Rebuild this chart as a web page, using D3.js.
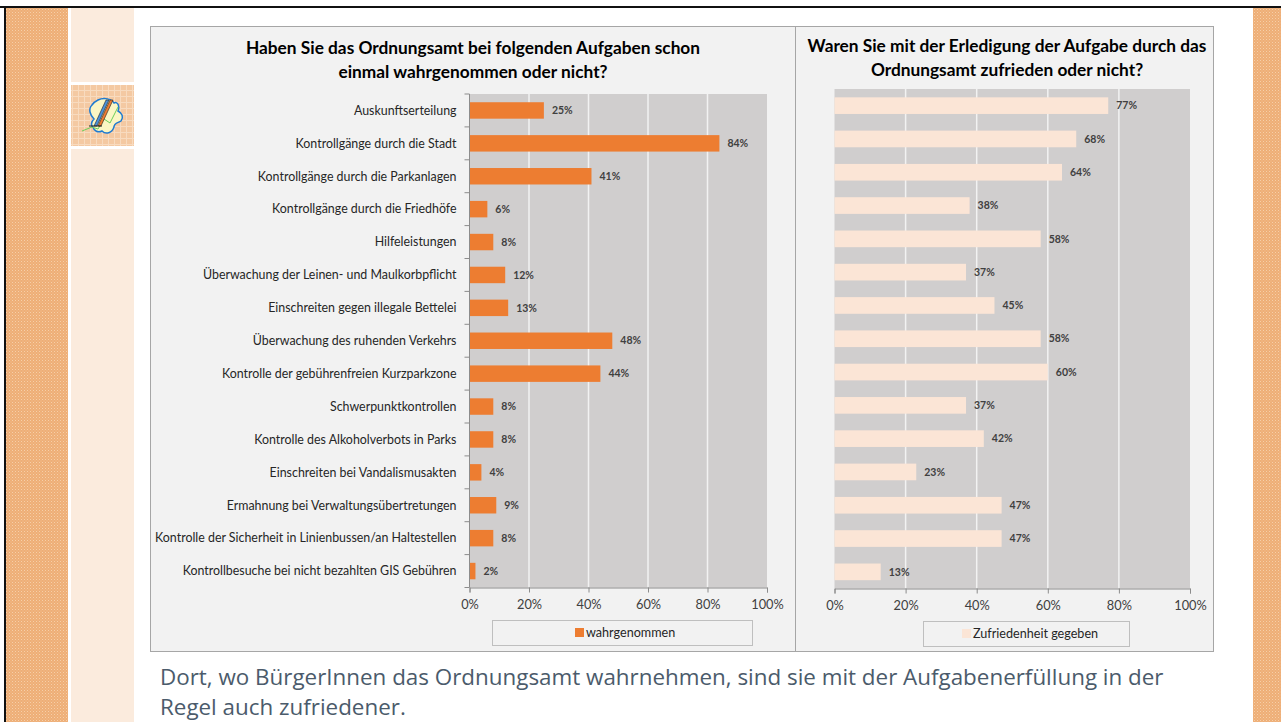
<!DOCTYPE html>
<html>
<head>
<meta charset="utf-8">
<script src="https://cdn.jsdelivr.net/npm/d3@7"></script>
<style>
  body { margin: 0; background: #ffffff; }
  svg { display: block; }
  text { font-family: Lato, 'Noto Sans', sans-serif; }
</style>
</head>
<body>
<svg id="slide" width="1281" height="722"></svg>
<script>
// Aufgaben (categories)
const categories = [
    'Auskunftserteilung',
    'Kontrollgänge durch die Stadt',
    'Kontrollgänge durch die Parkanlagen',
    'Kontrollgänge durch die Friedhöfe',
    'Hilfeleistungen',
    'Überwachung der Leinen- und Maulkorbpflicht',
    'Einschreiten gegen illegale Bettelei',
    'Überwachung des ruhenden Verkehrs',
    'Kontrolle der gebührenfreien Kurzparkzone',
    'Schwerpunktkontrollen',
    'Kontrolle des Alkoholverbots in Parks',
    'Einschreiten bei Vandalismusakten',
    'Ermahnung bei Verwaltungsübertretungen',
    'Kontrolle der Sicherheit in Linienbussen/an Haltestellen',
    'Kontrollbesuche bei nicht bezahlten GIS Gebühren'
];

// wahrgenommen
const wahrgenommen = [0.25, 0.84, 0.41, 0.06, 0.08, 0.12, 0.13, 0.48, 0.44, 0.08, 0.08, 0.04, 0.09, 0.08, 0.02];

// Zufriedenheit gegeben
const zufrieden = [0.77, 0.68, 0.64, 0.38, 0.58, 0.37, 0.45, 0.58, 0.60, 0.37, 0.42, 0.23, 0.47, 0.47, 0.13];

const xTicks = [0, 0.2, 0.4, 0.6, 0.8, 1];

const titleLeft = ['Haben Sie das Ordnungsamt bei folgenden Aufgaben schon', 'einmal wahrgenommen oder nicht?'];
const titleRight = ['Waren Sie mit der Erledigung der Aufgabe durch das', 'Ordnungsamt zufrieden oder nicht?'];
const footer = ['Dort, wo BürgerInnen das Ordnungsamt wahrnehmen, sind sie mit der Aufgabenerfüllung in der',
    'Regel auch zufriedener.'];

const orangeColor = '#ed7d31';
const peachColor = '#fbe5d6';
const plotColor = '#d0cece';
const panelColor = '#f2f2f2';
const textColor = '#404040';

const svg = d3.select('#slide');

// ---- slide decoration ----
const defs = svg.append('defs');
const pat = defs.append('pattern')
    .attr('id', 'dots')
    .attr('width', 3)
    .attr('height', 3)
    .attr('patternUnits', 'userSpaceOnUse');
pat.append('rect').attr('width', 3).attr('height', 3).attr('fill', '#eeae76');
pat.append('rect').attr('x', 0).attr('y', 0).attr('width', 1).attr('height', 1).attr('fill', '#f6cfa8');
pat.append('rect').attr('x', 1.5).attr('y', 1.5).attr('width', 1).attr('height', 1).attr('fill', '#f4c496');

const grid = defs.append('pattern')
    .attr('id', 'tile')
    .attr('width', 6)
    .attr('height', 6)
    .attr('patternUnits', 'userSpaceOnUse');
grid.append('rect').attr('width', 6).attr('height', 6).attr('fill', '#f4c9a2');
grid.append('rect').attr('width', 6).attr('height', 1).attr('fill', '#f8dbbf');
grid.append('rect').attr('width', 1).attr('height', 6).attr('fill', '#f8dbbf');

// top + left black frame
svg.append('rect').attr('x', 0).attr('y', 6).attr('width', 1281).attr('height', 2).attr('fill', '#111');
svg.append('rect').attr('x', 4).attr('y', 6).attr('width', 2).attr('height', 716).attr('fill', '#111');

// orange strips
svg.append('rect').attr('x', 6).attr('y', 8).attr('width', 62).attr('height', 714).attr('fill', 'url(#dots)');
svg.append('rect').attr('x', 1253).attr('y', 8).attr('width', 28).attr('height', 714).attr('fill', 'url(#dots)');

// peach column
svg.append('rect').attr('x', 71).attr('y', 8).attr('width', 63).attr('height', 74).attr('fill', '#fbebdd');
svg.append('rect').attr('x', 71).attr('y', 85).attr('width', 63).attr('height', 61).attr('fill', 'url(#tile)');
svg.append('rect').attr('x', 71).attr('y', 149).attr('width', 63).attr('height', 573).attr('fill', '#fbebdd');

// logo
const logo = svg.append('g').attr('transform', 'translate(84,97)');
logo.append('path')
    .attr('d', 'M14,3 C20,0 28,2 30,6 C34,4 36,10 34,14 C38,16 40,20 37,24 C34,26 30,26 30,30 C28,36 22,38 18,34 C14,36 10,34 9,30 C6,28 8,24 10,22 C6,18 4,12 8,8 C10,5 12,4 14,3 Z')
    .attr('fill', '#fbf6c4')
    .attr('stroke', '#1f7bd1')
    .attr('stroke-width', 1.5);
logo.append('path')
    .attr('d', 'M-2,34 L8,30 L14,32 L20,22 L26,26 L34,10')
    .attr('fill', 'none')
    .attr('stroke', '#6ccf5a')
    .attr('stroke-width', 1);
logo.append('path').attr('d', 'M10,29 L22,3 L25,3 L13,29 Z').attr('fill', '#4a90d9').attr('stroke', '#222').attr('stroke-width', 0.6);
logo.append('path').attr('d', 'M14,29 L26,3 L29,3 L17,29 Z').attr('fill', '#ee7b30').attr('stroke', '#222').attr('stroke-width', 0.6);
logo.append('path').attr('d', 'M5,29 L18,29').attr('stroke', '#222').attr('stroke-width', 1);

// ---- chart panels ----
svg.append('rect')
    .attr('x', 150.5).attr('y', 26.5).attr('width', 645).attr('height', 625)
    .attr('fill', panelColor).attr('stroke', '#a6a6a6');
svg.append('rect')
    .attr('x', 795.5).attr('y', 26.5).attr('width', 418).attr('height', 625)
    .attr('fill', panelColor).attr('stroke', '#a6a6a6');

function buildBarChart(values, props) {
    const g = svg.append('g');

    const x = d3.scaleLinear()
        .domain([0, 1])
        .range([props.left, props.right]);

    const y = d3.scaleBand()
        .domain(categories)
        .range([props.top, props.bottom])
        .paddingInner(0.5)
        .paddingOuter(0.25);

    // plot background
    g.append('rect')
        .attr('x', x(0))
        .attr('y', props.top)
        .attr('width', x(1) - x(0))
        .attr('height', props.bottom - props.top)
        .attr('fill', plotColor);

    // gridlines
    g.selectAll('.grid')
        .data(xTicks.slice(1, -1))
        .enter()
        .append('line')
        .attr('x1', d => x(d))
        .attr('x2', d => x(d))
        .attr('y1', props.top)
        .attr('y2', props.bottom)
        .attr('stroke', '#f2f2f2')
        .attr('stroke-width', 1.5);

    // bars
    g.selectAll('.bar')
        .data(values)
        .enter()
        .append('rect')
        .attr('x', x(0))
        .attr('y', (d, i) => y(categories[i]))
        .attr('width', d => x(d) - x(0))
        .attr('height', y.bandwidth())
        .attr('fill', props.color);

    // value labels
    g.selectAll('.val')
        .data(values)
        .enter()
        .append('text')
        .attr('x', d => x(d) + 8)
        .attr('y', (d, i) => y(categories[i]) + y.bandwidth() / 2)
        .attr('dy', '0.35em')
        .style('font-size', '10.5px')
        .style('font-weight', 'bold')
        .attr('fill', textColor)
        .text(d => d3.format('.0%')(d));

    // x axis
    const xAxis = g.append('g')
        .attr('transform', 'translate(0,' + props.bottom + ')')
        .call(d3.axisBottom(x).tickValues(xTicks).tickFormat(d3.format('.0%')).tickSize(5).tickPadding(7));
    xAxis.select('.domain').attr('stroke', '#8c8c8c');
    xAxis.selectAll('.tick line').attr('stroke', '#8c8c8c');
    xAxis.selectAll('text')
        .style('font-family', 'Lato, sans-serif')
        .style('font-size', '12.8px')
        .attr('fill', textColor);

    // y axis (left chart only)
    if (props.yAxis) {
        g.append('line')
            .attr('x1', x(0)).attr('x2', x(0))
            .attr('y1', props.top).attr('y2', props.bottom)
            .attr('stroke', '#8c8c8c');
        const gap = (y.step() - y.bandwidth()) / 2;
        const bounds = categories.map(c => y(c) - gap).concat([y(categories[categories.length - 1]) + y.bandwidth() + gap]);
        g.selectAll('.ytick')
            .data(bounds)
            .enter()
            .append('line')
            .attr('x1', x(0) - 5).attr('x2', x(0))
            .attr('y1', d => d).attr('y2', d => d)
            .attr('stroke', '#8c8c8c');
        g.selectAll('.ylab')
            .data(categories)
            .enter()
            .append('text')
            .attr('x', x(0) - 13)
            .attr('y', d => y(d) + y.bandwidth() / 2)
            .attr('dy', '0.35em')
            .attr('text-anchor', 'end')
            .style('font-size', '12.4px')
            .attr('fill', '#262626')
            .text(d => d);
    }

    // title
    props.title.forEach((t, i) => {
        g.append('text')
            .attr('x', props.titleX)
            .attr('y', props.titleY + i * 23.5)
            .attr('text-anchor', 'middle')
            .style('font-size', '17.3px')
            .style('font-weight', 'bold')
            .attr('fill', '#000')
            .text(t);
    });

    // legend
    const lg = props.legend;
    g.append('rect')
        .attr('x', lg.x + 0.5).attr('y', lg.y + 0.5)
        .attr('width', lg.w).attr('height', lg.h)
        .attr('fill', 'none').attr('stroke', '#bfbfbf');
    g.append('rect')
        .attr('x', lg.sx).attr('y', lg.y + 8)
        .attr('width', 9).attr('height', 9)
        .attr('fill', props.color);
    g.append('text')
        .attr('x', lg.sx + 11)
        .attr('y', lg.y + 12.5)
        .attr('dy', '0.35em')
        .style('font-size', '12.6px')
        .attr('fill', '#262626')
        .text(lg.label);
}

buildBarChart(wahrgenommen, {
    left: 469.5, right: 767, top: 94, bottom: 587.5,
    color: orangeColor, yAxis: true,
    title: titleLeft, titleX: 473, titleY: 54,
    legend: { x: 492, y: 620, w: 260, h: 25, sx: 575, label: 'wahrgenommen' }
});

buildBarChart(zufrieden, {
    left: 834.5, right: 1190, top: 89, bottom: 588.5,
    color: peachColor, yAxis: false,
    title: titleRight, titleX: 1007, titleY: 52,
    legend: { x: 923, y: 621, w: 206, h: 25, sx: 962, label: 'Zufriedenheit gegeben' }
});

// footer text
footer.forEach((t, i) => {
    svg.append('text')
        .attr('x', 160)
        .attr('y', 685 + i * 30)
        .style('font-family', "'Open Sans', sans-serif")
        .style('font-size', '22.4px')
        .attr('fill', '#4b5b6b')
        .text(t);
});
</script>
</body>
</html>
